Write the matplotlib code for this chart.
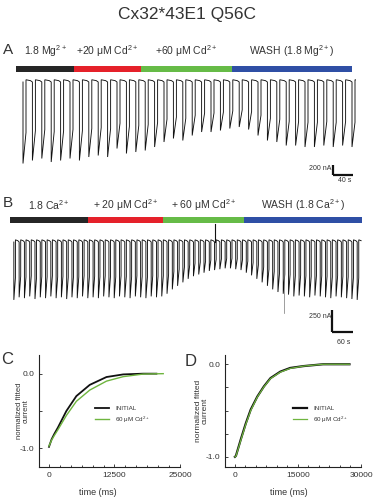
import numpy as np
import matplotlib
matplotlib.use('Agg')
import matplotlib.pyplot as plt
from matplotlib.patches import Rectangle
from matplotlib.ticker import MultipleLocator, FixedLocator, FixedFormatter

plt.rcParams['font.family'] = ['Liberation Sans', 'DejaVu Sans']
plt.rcParams['mathtext.fontset'] = 'custom'
plt.rcParams['mathtext.rm'] = 'Liberation Sans'
plt.rcParams['mathtext.it'] = 'Liberation Sans:italic'
plt.rcParams['mathtext.bf'] = 'Liberation Sans:bold'

TXT = '#333333'
W, H = 374, 500

# ---------------- data ----------------
title = 'Cx32*43E1 Q56C'

# Panel A: solution phases (s) and pulse peak currents (nA)
a_phase_labels = [r'1.8 Mg$^{2+}$', r'+20 μM Cd$^{2+}$', r'+60 μM Cd$^{2+}$', r'WASH (1.8 Mg$^{2+}$)']
a_phase_edges_s = [0, 116, 250, 432, 672]
a_pulse_first_s = 14
a_pulse_interval_s = 18.8
a_peak_nA = [1630, 1570, 1530, 1600, 1570, 1530, 1570, 1500, 1470, 1500, 1330, 1430,
             1400, 1370, 1300, 1200, 1130, 1170, 1070, 1000, 1000, 970, 930, 900,
             950, 1070, 1170, 1200, 1270, 1270, 1300, 1300, 1270, 1300, 1270, 1300]
a_scale_nA = 200
a_scale_s = 40

# Panel B
b_phase_labels = [r'1.8 Ca$^{2+}$', r'+ 20 μM Cd$^{2+}$', r'+ 60 μM Cd$^{2+}$', r'WASH (1.8 Ca$^{2+}$)']
b_phase_edges_s = [0, 223, 438, 669, 1007]
b_pulse_first_s = 11
b_pulse_interval_s = 15.1
b_peak_nA = [660, 630, 640, 620, 650, 630, 640, 620, 640, 630, 650, 630, 640, 620, 640,
             630, 640, 620, 630, 640, 620, 630, 640, 620, 630, 640, 620, 630, 620,
             590, 540, 500, 460, 420, 390, 370, 350, 330,
             320, 310, 300, 300, 310, 320,
             350, 380, 420, 460, 500, 540, 570, 590,
             600, 620, 610, 620, 630, 610, 620, 630, 640, 620, 630, 640, 650, 660]
b_artifact_down_s, b_artifact_down_nA = 782, 810
b_artifact_up_s, b_artifact_up_nA = 586, 200
b_scale_nA = 250
b_scale_s = 60

phase_colors = ['#262626', '#e5212a', '#66bb47', '#2f4fa5']

# Panel C: normalized fitted currents
c_init_t = [0, 500, 1000, 1720, 3320, 5230, 7780, 10970, 14160, 18000, 20500]
c_init_y = [-0.98, -0.88, -0.81, -0.72, -0.50, -0.30, -0.15, -0.045, -0.01, 0.0, 0.0]
c_cd_t = [0, 500, 1000, 1720, 3320, 5230, 7780, 10970, 14160, 18000, 21800]
c_cd_y = [-0.97, -0.89, -0.83, -0.75, -0.56, -0.37, -0.22, -0.10, -0.04, -0.005, 0.0]

# Panel D
d_init_t = [0, 235, 1410, 2580, 3760, 5320, 6890, 8460, 10800, 13150, 16290, 20980, 27250]
d_init_y = [-1.0, -0.99, -0.81, -0.64, -0.49, -0.35, -0.24, -0.15, -0.08, -0.04, -0.02, 0.0, 0.0]
d_cd_t = [0, 235, 1410, 2580, 3760, 5320, 6890, 8460, 10800, 13150, 16290, 20980, 27250]
d_cd_y = [-1.0, -0.995, -0.82, -0.65, -0.50, -0.355, -0.245, -0.155, -0.085, -0.045, -0.02, 0.0, 0.0]

legend_labels = ['INITIAL', r'60 μM Cd$^{2+}$']

# ---------------- figure ----------------
fig = plt.figure(figsize=(W / 100, H / 100), dpi=100)


def px_axes(x0, y0, x1, y1):
    return fig.add_axes([x0 / W, 1 - y1 / H, (x1 - x0) / W, (y1 - y0) / H])


fig.text(187 / W, 1 - 14 / H, title, ha='center', va='center', fontsize=12.5, color=TXT)


def trace(ax, first, interval, peaks, width_s, frac, tail):
    xs, ys = [], []
    times = first + interval * np.arange(len(peaks))
    for t, p in zip(times, peaks):
        xs += [t, t, t + width_s, t + width_s, t + width_s + 1.5 * width_s]
        ys += [0, -p, -frac * p, tail, tail * 0.6]
    ax.plot(xs, ys, color='#111111', lw=0.65, solid_joinstyle='miter')
    return times


def phase_bar(ax, edges, labels, y0, h, ylab, fs):
    for i in range(len(labels)):
        ax.add_patch(Rectangle((edges[i], y0), edges[i + 1] - edges[i], h,
                               facecolor=phase_colors[i], edgecolor='none'))
        ax.text((edges[i] + edges[i + 1]) / 2, ylab, labels[i], ha='center', va='center',
                fontsize=fs, color=TXT)


def scale_bar(ax, x, y, dy, dx, ylabel, fs):
    ax.plot([x, x], [y, y + dy], color='#111111', lw=1.6, solid_capstyle='butt')
    ax.plot([x, x + dx], [y, y], color='#111111', lw=1.6, solid_capstyle='butt')
    ax.text(x - 3, y + dy * 0.7, ylabel, ha='right', va='center', fontsize=fs, color=TXT)


# ----- Panel A -----
axA = px_axes(16, 40, 356, 192)
axA.set_xlim(0, 680)
axA.set_ylim(-2200, 840)
axA.axis('off')
phase_bar(axA, a_phase_edges_s, a_phase_labels, 200, 120, 620, 7.5)
trace(axA, a_pulse_first_s, a_pulse_interval_s, a_peak_nA, 6, 0.62, 45)
sbx, sby = 634, -1860
scale_bar(axA, sbx, sby, a_scale_nA, a_scale_s, f'{a_scale_nA} nA', 5)
axA.text(sbx + a_scale_s / 2 + 4, sby - 110, f'{a_scale_s} s', ha='center', va='center', fontsize=5, color=TXT)
fig.text(8 / W, 1 - 50 / H, 'A', ha='center', va='center', fontsize=11, color=TXT)

# ----- Panel B -----
axB = px_axes(10, 190, 364, 352)
axB.set_xlim(0, 1012)
axB.set_ylim(-1254, 593)
axB.axis('off')
phase_bar(axB, b_phase_edges_s, b_phase_labels, 220, 68, 422, 7.5)
trace(axB, b_pulse_first_s, b_pulse_interval_s, b_peak_nA, 4.5, 0.62, 25)
axB.plot([b_artifact_down_s, b_artifact_down_s], [0, -b_artifact_down_nA], color='#777777', lw=0.5)
axB.plot([b_artifact_up_s, b_artifact_up_s], [0, b_artifact_up_nA], color='#111111', lw=0.8)
sbx, sby = 921, -1026
scale_bar(axB, sbx, sby, b_scale_nA, b_scale_s, f'{b_scale_nA} nA', 5)
axB.text(sbx + b_scale_s / 2 + 3, sby - 120, f'{b_scale_s} s', ha='center', va='center', fontsize=5, color=TXT)
fig.text(8 / W, 1 - 203 / H, 'B', ha='center', va='center', fontsize=11, color=TXT)


# ----- Panels C, D -----
def style_fit_axes(ax):
    for s in ['top', 'right']:
        ax.spines[s].set_visible(False)
    for s in ['left', 'bottom']:
        ax.spines[s].set_color('#222222')
        ax.spines[s].set_linewidth(0.8)
    ax.tick_params(which='both', direction='in', colors='#222222', labelcolor=TXT,
                   labelsize=6, width=0.6)
    ax.tick_params(which='major', length=2.5)
    ax.tick_params(which='minor', length=1.5)


axC = px_axes(39, 355, 180, 467)
axC.plot(c_init_t, c_init_y, color='#111111', lw=1.3)
axC.plot(c_cd_t, c_cd_y, color='#6fb53f', lw=1.0)
axC.set_xlim(-1900, 25000)
axC.set_ylim(-1.25, 0.25)
axC.xaxis.set_major_locator(FixedLocator([0, 12500, 25000]))
axC.xaxis.set_minor_locator(MultipleLocator(12500 / 6))
axC.yaxis.set_major_locator(FixedLocator([0.0, -0.5, -1.0]))
axC.yaxis.set_major_formatter(FixedFormatter(['0.0', '', '-1.0']))
style_fit_axes(axC)
axC.set_ylabel('normalized fitted\ncurrent', fontsize=5.5, color=TXT, linespacing=1.0)
axC.yaxis.set_label_coords(-0.064, 0.5)
axC.set_xlabel('time (ms)', fontsize=6.5, color=TXT)
axC.xaxis.set_label_coords(0.42, -0.19)
axC.legend(legend_labels, loc='center left', bbox_to_anchor=(0.36, 0.46), frameon=False,
           fontsize=4.5, handlelength=2.2, labelspacing=0.5, handletextpad=1.0,
           labelcolor=TXT)
fig.text(7 / W, 1 - 359 / H, 'C', ha='center', va='center', fontsize=12, color=TXT)

axD = px_axes(225, 355, 361, 467)
axD.plot(d_init_t, d_init_y, color='#111111', lw=1.6)
axD.plot(d_cd_t, d_cd_y, color='#6fb53f', lw=0.9)
axD.set_xlim(-2360, 30000)
axD.set_ylim(-1.11, 0.1)
axD.xaxis.set_major_locator(FixedLocator([0, 15000, 30000]))
axD.xaxis.set_minor_locator(MultipleLocator(2500))
axD.yaxis.set_major_locator(FixedLocator([0.0, -0.25, -0.5, -0.75, -1.0]))
axD.yaxis.set_major_formatter(FixedFormatter(['0.0', '', '', '', '-1.0']))
style_fit_axes(axD)
axD.set_ylabel('normalized fitted\ncurrent', fontsize=6, color=TXT, linespacing=1.0)
axD.yaxis.set_label_coords(-0.118, 0.5)
axD.set_xlabel('time (ms)', fontsize=6.5, color=TXT)
axD.xaxis.set_label_coords(0.47, -0.19)
axD.legend(legend_labels, loc='center left', bbox_to_anchor=(0.46, 0.46), frameon=False,
           fontsize=4.5, handlelength=2.2, labelspacing=0.5, handletextpad=1.0,
           labelcolor=TXT)
fig.text(191 / W, 1 - 361 / H, 'D', ha='center', va='center', fontsize=12, color=TXT)

fig.savefig('out.png', dpi=100, facecolor='white')
